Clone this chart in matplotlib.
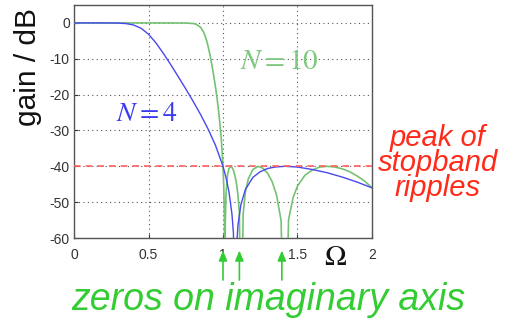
import matplotlib.pyplot as plt

plt.rcParams['font.family'] = ['Liberation Sans', 'DejaVu Sans']
plt.rcParams['mathtext.fontset'] = 'stix'
plt.rcParams['axes.unicode_minus'] = False

# gain curves (dB) against normalised frequency
omega_n4 = [0, 0.2, 0.3, 0.35, 0.4, 0.45, 0.5, 0.55, 0.6, 0.65, 0.7, 0.75, 0.8, 0.85,
            0.9, 0.95, 1.0, 1.02, 1.04, 1.06, 1.07, 1.082, 1.09, 1.10, 1.12, 1.15, 1.2,
            1.25, 1.3, 1.35, 1.414, 1.5, 1.6, 1.7, 1.8, 1.9, 2.0]
gain_n4 = [0, 0, -0.05, -0.19, -0.58, -1.49, -3.14, -5.57, -8.51, -11.7, -15.0, -18.4,
           -21.9, -25.6, -29.6, -34.2, -40.0, -43.1, -47.1, -53.3, -58.7, -100, -63.6,
           -56.6, -50.7, -46.5, -43.1, -41.5, -40.6, -40.2, -40.0, -40.2, -40.9, -41.8,
           -43.0, -44.4, -46.0]

omega_n10 = [0, 0.5, 0.75, 0.8, 0.82, 0.85, 0.87, 0.88, 0.89, 0.90, 0.91, 0.92, 0.93,
             0.94, 0.95, 0.96, 0.97, 0.98, 0.99, 1.0, 1.005, 1.01, 1.0125, 1.015, 1.02,
             1.03, 1.04, 1.0515, 1.06, 1.07, 1.08, 1.09, 1.10, 1.11, 1.1223, 1.135, 1.15,
             1.17, 1.2, 1.236, 1.27, 1.3, 1.33, 1.36, 1.39, 1.414, 1.44, 1.47, 1.5, 1.55,
             1.6, 1.65, 1.70, 1.75, 1.8, 1.85, 1.9, 1.95, 2.0]
gain_n10 = [0, 0, -0.02, -0.16, -0.37, -1.23, -2.59, -3.63, -4.94, -6.53, -8.38, -10.5,
            -12.8, -15.3, -18.0, -21.0, -24.4, -28.4, -33.2, -40.0, -45.4, -55.8, -100,
            -56.5, -47.9, -42.5, -40.6, -40.0, -40.3, -41.1, -42.6, -44.7, -47.9, -52.9,
            -100, -53.4, -47.2, -43.5, -40.9, -40.0, -40.6, -42.0, -44.3, -48.1, -55.2,
            -100, -54.9, -48.8, -45.5, -42.5, -41.0, -40.2, -40.0, -40.2, -40.7, -41.5,
            -42.7, -44.1, -46.0]

stopband_peak = -40
zero_marks = [1.0, 1.11, 1.395]

x_ticks = [0, 0.5, 1, 1.5, 2]
x_ticklabels = ['0', '0.5', '1', '1.5', '2']
y_ticks = [0, -10, -20, -30, -40, -50, -60]

fig = plt.figure(figsize=(5.08, 3.21), dpi=100)
ax = fig.add_axes([74 / 508, 83 / 321, 298 / 508, 233 / 321])

ax.plot(omega_n10, gain_n10, color='#74c274', lw=1.2, zorder=3)
ax.plot(omega_n4, gain_n4, color='#4848f0', lw=1.0, zorder=4)
ax.axhline(stopband_peak, color='#ff6060', lw=1.2, ls=(0, (4, 3)), zorder=5)

ax.set_xlim(0, 2)
ax.set_ylim(-60, 5)
ax.set_xticks(x_ticks)
ax.set_xticklabels(x_ticklabels)
ax.set_yticks(y_ticks)
ax.tick_params(direction='in', length=3, labelsize=10, colors='#333333')
ax.tick_params(axis='x', pad=7)
ax.tick_params(axis='y', pad=3)
ax.grid(True, ls=(0, (1, 3)), color='#555555', lw=0.8)
for s in ax.spines.values():
    s.set_color('#555555')
    s.set_linewidth(1.0)

fig.text(28 / 508, 1 - 67 / 321, 'gain / dB', rotation=90, fontsize=21.5,
         ha='center', va='center', color='#111111')
fig.text(335 / 508, 1 - 257 / 321, r'$\Omega$', fontsize=21, ha='center',
         va='center', color='#111111')

ax.text(0.49, -25.5, r'$N = 4$', fontsize=20, color='#3a3af0', ha='center', va='center')
ax.text(1.38, -10.5, r'$N = 10$', fontsize=21, color='#80c880', ha='center', va='center')

fig.text(438 / 508, 1 - 163 / 321, 'peak of\nstopband\nripples', fontsize=21,
         style='italic', color='#ff2a1a', ha='center', va='center', linespacing=0.85)
fig.text(268 / 508, 1 - 300 / 321, 'zeros on imaginary axis', fontsize=27,
         style='italic', color='#33cc33', ha='center', va='center')

for z in zero_marks:
    ax.annotate('', xy=(z, -62.7), xytext=(z, -72.5), xycoords='data',
                annotation_clip=False,
                arrowprops=dict(arrowstyle='-|>,head_width=0.25,head_length=0.6',
                                color='#33cc33', lw=1.2))

fig.savefig('out.png', dpi=100)
